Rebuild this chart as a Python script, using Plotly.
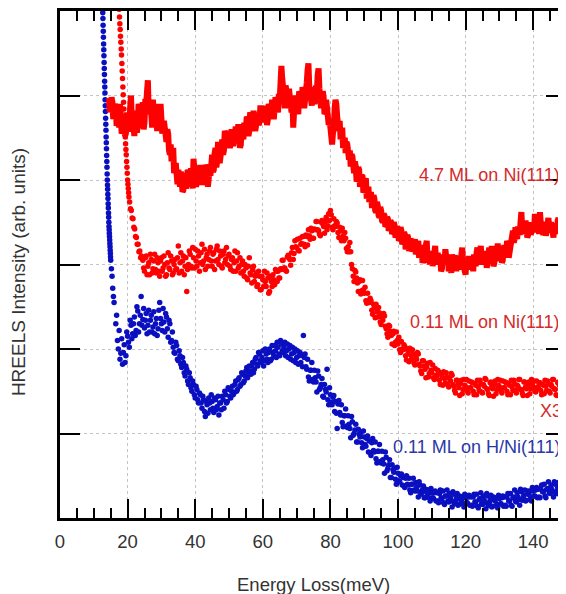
import numpy as np
import plotly.graph_objects as go

# ---------------- data ----------------
x_tick_vals = [0, 20, 40, 60, 80, 100, 120, 140]
x_tick_text = ["0", "20", "40", "60", "80", "100", "120", "140"]
y_tick_vals = [1, 2, 3, 4, 5]

# 4.7 ML on Ni(111): thick red line. Two interleaved 0.5 meV grids (from 14.5 and 14.75 meV)
red_line_start_a = 14.5
red_line_I_a = [
    4.97, 4.88, 4.92, 4.78, 4.85, 4.70, 4.62, 4.75, 4.58, 4.68,
    4.55, 4.72, 4.60, 5.00, 4.78, 4.52, 4.70, 4.65, 4.85, 4.72,
    4.92, 4.68, 4.90, 5.18, 4.82, 4.75, 4.95, 4.62, 4.80, 4.88,
    4.70, 4.78, 4.60, 4.52, 4.45, 4.55, 4.30, 4.22, 4.38, 4.15,
    4.05, 4.12, 3.92, 4.02, 3.88, 4.05, 3.95, 4.10, 3.98, 4.02,
    4.25, 4.10, 3.98, 4.05, 4.18, 3.96, 4.08, 4.00, 4.15, 3.98,
    4.05, 4.30, 4.12, 4.38, 4.22, 4.35, 4.28, 4.48, 4.35, 4.55,
    4.45, 4.50, 4.43, 4.55, 4.47, 4.63, 4.50, 4.57, 4.42, 4.55,
    4.68, 4.60, 4.73, 4.58, 4.77, 4.66, 4.75, 4.64, 4.80, 4.68,
    4.85, 4.73, 4.68, 4.80, 4.72, 4.87, 4.78, 4.90, 4.80, 4.94,
    4.80, 4.95, 5.35, 5.10, 4.85, 5.05, 4.90, 5.00, 4.80, 4.62,
    4.85, 4.95, 4.78, 5.02, 4.90, 5.05, 4.92, 5.15, 5.38, 5.02,
    4.88, 5.10, 4.95, 5.05, 5.32, 5.00, 4.92, 4.98, 4.80, 4.88,
    4.65, 4.55, 4.42, 4.60, 4.95, 4.75, 4.58, 4.48, 4.62, 4.40,
    4.32, 4.42, 4.24, 4.16, 4.28, 4.08, 4.16, 4.02, 4.12, 3.96,
    4.04, 3.88, 4.02, 3.84, 3.74, 3.86, 3.70, 3.78, 3.62, 3.70,
    3.56, 3.64, 3.50, 3.58, 3.46, 3.54, 3.42, 3.50, 3.38, 3.46,
    3.34, 3.42, 3.30, 3.40, 3.26, 3.36, 3.22, 3.32, 3.20, 3.28,
    3.18, 3.30, 3.15, 3.28, 3.12, 3.20, 3.05, 3.18, 3.28, 3.10,
    3.00, 3.15, 3.05, 3.22, 3.08, 3.00, 3.12, 2.95, 3.08, 3.18,
    3.02, 2.92, 3.05, 3.12, 2.98, 3.08, 3.00, 3.06, 2.98, 3.20,
    3.02, 2.88, 3.00, 3.10, 2.96, 3.04, 3.12, 2.98, 3.20, 3.05,
    3.22, 3.08, 3.00, 3.15, 3.02, 3.20, 3.08, 3.15, 3.02, 3.12,
    3.25, 3.10, 3.18, 3.05, 3.22, 3.12, 3.25, 3.15, 3.28, 3.40,
    3.30, 3.38, 3.45, 3.35, 3.62, 3.50, 3.40, 3.45, 3.35, 3.42,
    3.38, 3.48, 3.60, 3.40, 3.50, 3.62, 3.45, 3.35, 3.48, 3.40,
    3.55, 3.38, 3.45, 3.32, 3.48, 3.38, 3.55, 3.42, 3.50, 3.38,
    3.52, 3.65, 3.48, 3.55,
]
red_line_start_b = 14.75
red_line_I_b = [
    4.80, 4.98, 4.72, 4.90, 4.64, 4.80, 4.90, 4.55, 4.78, 4.52,
    4.80, 4.58, 4.85, 4.70, 4.62, 4.82, 4.56, 4.90, 4.62, 4.80,
    4.60, 4.96, 5.05, 4.78, 4.95, 4.62, 4.72, 4.90, 4.58, 4.72,
    4.90, 4.55, 4.70, 4.62, 4.60, 4.35, 4.42, 4.30, 4.08, 4.20,
    3.95, 3.98, 4.10, 3.86, 4.08, 3.90, 4.12, 3.92, 4.14, 3.90,
    4.05, 3.92, 4.15, 3.94, 4.00, 4.12, 3.94, 4.18, 3.92, 4.12,
    4.18, 4.10, 4.32, 4.15, 4.45, 4.20, 4.42, 4.30, 4.58, 4.38,
    4.58, 4.38, 4.60, 4.40, 4.62, 4.45, 4.66, 4.38, 4.60, 4.48,
    4.55, 4.75, 4.52, 4.80, 4.62, 4.82, 4.58, 4.78, 4.65, 4.85,
    4.70, 4.82, 4.88, 4.65, 4.90, 4.75, 4.95, 4.72, 4.98, 4.85,
    5.02, 5.15, 5.20, 4.92, 5.12, 4.85, 5.08, 4.88, 4.95, 4.80,
    5.00, 4.82, 5.05, 4.88, 5.10, 4.85, 5.08, 5.30, 5.10, 4.90,
    5.05, 4.90, 5.12, 5.25, 5.08, 4.85, 5.05, 4.78, 4.95, 4.72,
    4.72, 4.45, 4.55, 4.85, 4.90, 4.62, 4.70, 4.55, 4.38, 4.50,
    4.45, 4.28, 4.35, 4.30, 4.12, 4.22, 3.98, 4.15, 3.92, 4.05,
    3.85, 4.00, 3.78, 3.92, 3.84, 3.70, 3.82, 3.64, 3.74, 3.58,
    3.68, 3.52, 3.60, 3.45, 3.56, 3.40, 3.52, 3.36, 3.50, 3.32,
    3.45, 3.28, 3.44, 3.24, 3.38, 3.18, 3.35, 3.16, 3.30, 3.15,
    3.26, 3.12, 3.24, 3.08, 3.22, 3.02, 3.14, 3.22, 3.02, 3.16,
    3.10, 2.98, 3.16, 3.00, 3.14, 3.06, 2.92, 3.12, 3.00, 3.04,
    3.12, 3.00, 2.90, 3.00, 3.10, 2.92, 3.10, 2.94, 3.12, 3.04,
    2.92, 3.06, 2.94, 2.98, 3.10, 2.92, 3.02, 3.14, 3.00, 3.12,
    3.00, 3.16, 3.10, 2.96, 3.12, 3.04, 3.22, 2.98, 3.18, 3.04,
    3.08, 3.22, 3.02, 3.20, 3.10, 3.28, 3.08, 3.22, 3.32, 3.26,
    3.44, 3.30, 3.36, 3.50, 3.42, 3.36, 3.52, 3.32, 3.50, 3.36,
    3.46, 3.38, 3.44, 3.54, 3.36, 3.48, 3.38, 3.50, 3.34, 3.52,
    3.42, 3.50, 3.36, 3.46, 3.40, 3.52, 3.36, 3.58, 3.40, 3.48,
    3.40, 3.56, 3.62,
]

# 0.11 ML on Ni(111) (x3): red dots. Steep elastic tail, then two interleaved 0.5 meV grids
red_tail_E = [17.4, 17.5, 17.6, 17.7, 17.8, 17.9, 18.0, 18.1, 18.2, 18.3,
              18.4, 18.5, 18.6, 18.7, 18.8, 18.9, 19.0, 19.1, 19.2, 19.3,
              19.4, 19.5, 19.6, 19.7, 19.8, 19.9, 20.0, 20.1, 20.2, 20.3,
              20.4, 20.6, 20.85, 21.1, 21.35, 21.6, 21.85, 22.1, 22.35, 22.6,
              22.85, 23.1, 23.35, 23.6, 23.85, 24.1]
red_tail_I = [6.15, 6.02, 5.93, 5.85, 5.78, 5.70, 5.63, 5.55, 5.48, 5.38,
              5.29, 5.20, 5.10, 5.01, 4.92, 4.84, 4.74, 4.66, 4.58, 4.51,
              4.43, 4.36, 4.30, 4.22, 4.15, 4.08, 4.00, 3.95, 3.90, 3.85,
              3.80, 3.74, 3.66, 3.64, 3.55, 3.54, 3.44, 3.42, 3.33, 3.32,
              3.24, 3.24, 3.15, 3.16, 3.08, 3.10]
red_dots_start_a = 24.5
red_dots_I_a = [
    3.05, 2.92, 3.10, 2.98, 2.88, 3.06, 2.95, 3.12, 2.90, 3.02,
    2.86, 3.08, 2.96, 3.00, 2.88, 3.14, 2.94, 3.04, 2.90, 3.06,
    2.95, 3.22, 3.02, 2.92, 3.10, 2.98, 2.68, 3.00, 3.12, 2.96,
    3.08, 3.18, 2.98, 3.10, 3.02, 3.24, 3.04, 2.94, 3.12, 3.06,
    3.20, 2.98, 3.14, 3.04, 3.22, 3.00, 3.10, 2.96, 3.16, 3.06,
    3.00, 3.12, 2.94, 3.08, 3.02, 2.92, 3.14, 2.98, 2.90, 3.04,
    2.86, 2.96, 2.82, 3.08, 2.88, 2.94, 2.80, 2.90, 2.76, 2.86,
    2.70, 2.82, 2.92, 2.74, 2.84, 2.68, 2.80, 2.88, 2.76, 2.92,
    2.92, 2.84, 2.94, 3.05, 2.96, 2.92, 3.11, 3.06, 3.14, 3.06,
    3.28, 3.20, 3.17, 3.31, 3.25, 3.33, 3.21, 3.33, 3.41, 3.30,
    3.40, 3.31, 3.41, 3.51, 3.40, 3.34, 3.52, 3.45, 3.51, 3.41,
    3.60, 3.64, 3.44, 3.54, 3.45, 3.49, 3.32, 3.40, 3.43, 3.28,
    3.31, 3.15, 3.15, 3.15, 2.95, 2.80, 2.91, 2.78, 2.80, 2.65,
    2.81, 2.66, 2.57, 2.66, 2.55, 2.57, 2.41, 2.49, 2.53, 2.38,
    2.43, 2.29, 2.34, 2.39, 2.24, 2.14, 2.27, 2.16, 2.18, 2.04,
    2.20, 2.06, 1.99, 2.09, 1.99, 2.03, 1.87, 1.97, 2.01, 1.88,
    1.94, 1.81, 1.88, 1.94, 1.80, 1.71, 1.86, 1.76, 1.79, 1.67,
    1.84, 1.72, 1.66, 1.77, 1.68, 1.73, 1.58, 1.68, 1.73, 1.60,
    1.67, 1.55, 1.62, 1.69, 1.56, 1.48, 1.63, 1.54, 1.59, 1.47,
    1.64, 1.55, 1.50, 1.62, 1.54, 1.60, 1.46, 1.57, 1.63, 1.51,
    1.59, 1.48, 1.56, 1.64, 1.52, 1.45, 1.61, 1.53, 1.58, 1.47,
    1.64, 1.55, 1.50, 1.62, 1.54, 1.60, 1.46, 1.57, 1.63, 1.51,
    1.59, 1.48, 1.56, 1.64, 1.52, 1.45, 1.61, 1.53, 1.58, 1.47,
    1.64, 1.55, 1.50, 1.62, 1.54, 1.60, 1.46, 1.57, 1.63, 1.51,
    1.59, 1.48, 1.56, 1.64, 1.52, 1.45, 1.61, 1.53, 1.58, 1.47,
    1.64, 1.55, 1.50, 1.62,
]
red_dots_start_b = 24.75
red_dots_I_b = [
    2.96, 3.08, 2.88, 3.02, 3.12, 2.90, 3.04, 2.94, 3.08, 2.92,
    3.04, 2.92, 3.10, 2.86, 3.02, 2.96, 3.10, 2.88, 3.00, 2.94,
    3.08, 2.90, 3.14, 3.04, 2.88, 3.08, 2.94, 3.16, 2.98, 3.20,
    2.96, 3.04, 3.16, 2.92, 3.14, 3.00, 3.18, 3.08, 2.98, 3.16,
    3.04, 3.12, 2.94, 3.18, 3.06, 3.16, 2.98, 3.12, 3.02, 3.20,
    3.10, 2.98, 3.06, 2.92, 3.16, 3.04, 2.96, 3.08, 3.00, 2.92,
    3.00, 2.84, 2.98, 2.90, 2.78, 2.98, 2.86, 2.74, 2.92, 2.70,
    2.86, 2.74, 2.80, 2.90, 2.66, 2.86, 2.74, 2.82, 2.94, 2.80,
    2.84, 2.95, 3.05, 2.96, 2.93, 3.09, 3.08, 2.99, 3.20, 3.13,
    3.21, 3.30, 3.16, 3.24, 3.33, 3.24, 3.35, 3.23, 3.34, 3.43,
    3.31, 3.42, 3.51, 3.41, 3.36, 3.50, 3.48, 3.37, 3.56, 3.46,
    3.52, 3.59, 3.41, 3.46, 3.51, 3.38, 3.44, 3.28, 3.34, 3.38,
    3.19, 3.21, 3.26, 3.00, 2.86, 2.93, 2.84, 2.68, 2.82, 2.69,
    2.70, 2.73, 2.54, 2.57, 2.60, 2.46, 2.53, 2.37, 2.44, 2.49,
    2.32, 2.38, 2.42, 2.27, 2.18, 2.28, 2.21, 2.06, 2.21, 2.08,
    2.10, 2.14, 1.96, 2.00, 2.05, 1.92, 2.00, 1.85, 1.93, 1.99,
    1.83, 1.91, 1.96, 1.82, 1.74, 1.86, 1.80, 1.66, 1.83, 1.71,
    1.75, 1.81, 1.64, 1.69, 1.75, 1.63, 1.71, 1.57, 1.65, 1.72,
    1.57, 1.65, 1.71, 1.58, 1.51, 1.63, 1.58, 1.45, 1.63, 1.52,
    1.57, 1.64, 1.48, 1.54, 1.61, 1.50, 1.59, 1.46, 1.55, 1.63,
    1.49, 1.58, 1.65, 1.53, 1.47, 1.60, 1.56, 1.44, 1.62, 1.52,
    1.57, 1.63, 1.48, 1.54, 1.61, 1.50, 1.59, 1.46, 1.55, 1.63,
    1.51, 1.57, 1.64, 1.52, 1.48, 1.61, 1.55, 1.45, 1.61, 1.53,
    1.58, 1.62, 1.49, 1.55, 1.60, 1.51, 1.58, 1.47, 1.56, 1.62,
    1.50, 1.58, 1.64, 1.53, 1.46, 1.60, 1.57, 1.45, 1.62, 1.52,
    1.58, 1.63, 1.50,
]

# 0.11 ML on H/Ni(111): blue dots. Steep tail on a 0.05 meV grid from 12.5, then two 0.5 meV grids
blue_tail_start = 12.5
blue_tail_I = [6.20, 6.13, 6.05, 5.98, 5.91, 5.83, 5.76, 5.69, 5.61, 5.54,
               5.47, 5.39, 5.32, 5.25, 5.17, 5.10, 5.03, 4.95, 4.88, 4.81,
               4.73, 4.66, 4.59, 4.51, 4.44, 4.37, 4.29, 4.22, 4.15, 4.07,
               4.00, 3.94, 3.89, 3.83, 3.78, 3.72, 3.67, 3.61, 3.56, 3.50,
               3.45, 3.41, 3.37, 3.33, 3.29, 3.25, 3.21, 3.17, 3.13, 3.09,
               3.05]
blue_mid_E = [15.2, 15.4, 15.6, 15.8, 16.0]
blue_mid_I = [2.95, 2.86, 2.72, 2.62, 2.55]
blue_dots_start_a = 16.5
blue_dots_I_a = [
    2.30, 2.10, 2.22, 1.95, 1.82, 2.05, 1.92, 2.15, 2.02, 2.28,
    2.18, 2.38, 2.22, 2.45, 2.30, 2.62, 2.35, 2.25, 2.42, 2.28,
    2.20, 2.40, 2.26, 2.18, 2.36, 2.24, 2.55, 2.30, 2.48, 2.20,
    2.38, 2.14, 2.30, 2.10, 2.02, 1.95, 2.04, 1.86, 1.92, 1.78,
    1.84, 1.68, 1.76, 1.58, 1.66, 1.50, 1.58, 1.42, 1.52, 1.36,
    1.46, 1.30, 1.40, 1.20, 1.34, 1.42, 1.28, 1.38, 1.25, 1.40,
    1.32, 1.22, 1.36, 1.44, 1.30, 1.46, 1.38, 1.52, 1.42, 1.56,
    1.48, 1.62, 1.52, 1.66, 1.58, 1.70, 1.62, 1.74, 1.66, 1.80,
    1.70, 1.84, 1.76, 1.90, 1.80, 1.94, 1.84, 1.98, 1.86, 1.94,
    1.84, 2.00, 1.88, 1.96, 2.04, 1.90, 2.02, 1.92, 2.06, 1.96,
    2.08, 1.98, 1.90, 2.04, 1.94, 1.86, 2.00, 1.90, 1.82, 1.96,
    1.93, 2.16, 1.94, 1.76, 1.67, 1.75, 1.84, 1.61, 1.66, 1.49,
    1.68, 1.54, 1.65, 1.43, 1.52, 1.76, 1.34, 1.46, 1.34, 1.45,
    1.38, 1.06, 1.39, 1.22, 1.13, 1.21, 1.29, 1.07, 1.11, 0.95,
    1.14, 1.00, 1.11, 0.90, 0.99, 1.01, 0.83, 0.96, 0.85, 0.97,
    0.91, 0.74, 0.94, 0.78, 0.70, 0.79, 0.87, 0.65, 0.69, 0.53,
    0.72, 0.59, 0.69, 0.48, 0.57, 0.59, 0.40, 0.53, 0.43, 0.52,
    0.48, 0.36, 0.50, 0.39, 0.33, 0.40, 0.47, 0.32, 0.36, 0.25,
    0.39, 0.30, 0.38, 0.24, 0.30, 0.33, 0.20, 0.30, 0.23, 0.32,
    0.30, 0.18, 0.33, 0.23, 0.18, 0.26, 0.33, 0.19, 0.24, 0.13,
    0.28, 0.20, 0.29, 0.16, 0.22, 0.25, 0.13, 0.24, 0.18, 0.27,
    0.25, 0.14, 0.28, 0.19, 0.14, 0.22, 0.30, 0.16, 0.21, 0.11,
    0.26, 0.18, 0.27, 0.14, 0.21, 0.24, 0.12, 0.23, 0.17, 0.26,
    0.25, 0.14, 0.29, 0.20, 0.15, 0.24, 0.33, 0.19, 0.25, 0.15,
    0.31, 0.24, 0.33, 0.21, 0.28, 0.32, 0.20, 0.32, 0.26, 0.36,
    0.34, 0.24, 0.39, 0.31, 0.26, 0.34, 0.43, 0.29, 0.34, 0.25,
    0.40, 0.32, 0.42, 0.29, 0.36, 0.39, 0.28, 0.39, 0.33, 0.42,
]
blue_dots_start_b = 16.75
blue_dots_I_b = [
    2.40, 2.00, 1.88, 2.12, 1.96, 1.84, 2.20, 2.08, 2.34, 2.12,
    2.30, 2.16, 2.50, 2.20, 2.40, 2.28, 2.48, 2.34, 2.18, 2.46,
    2.34, 2.20, 2.44, 2.30, 2.16, 2.46, 2.36, 2.22, 2.32, 2.42,
    2.24, 2.34, 2.08, 2.20, 1.96, 2.08, 1.88, 1.98, 1.82, 1.90,
    1.72, 1.80, 1.62, 1.72, 1.54, 1.62, 1.46, 1.56, 1.40, 1.48,
    1.36, 1.44, 1.26, 1.38, 1.24, 1.36, 1.46, 1.30, 1.42, 1.28,
    1.44, 1.36, 1.28, 1.40, 1.50, 1.36, 1.54, 1.44, 1.50, 1.46,
    1.58, 1.50, 1.64, 1.56, 1.72, 1.60, 1.68, 1.78, 1.70, 1.74,
    1.80, 1.72, 1.88, 1.82, 1.96, 1.86, 1.90, 1.80, 2.00, 1.88,
    1.96, 1.86, 2.04, 1.92, 1.98, 2.08, 1.94, 2.10, 1.98, 2.02,
    1.92, 2.06, 2.00, 1.88, 2.02, 1.96, 1.84, 1.98, 1.92, 1.84,
    1.79, 1.90, 1.79, 1.88, 1.62, 1.75, 1.64, 1.75, 1.61, 1.74,
    1.52, 1.58, 1.44, 1.58, 1.49, 1.40, 1.54, 1.37, 1.43, 1.26,
    1.24, 1.35, 1.25, 1.34, 1.08, 1.21, 1.09, 1.21, 1.06, 1.20,
    0.98, 1.04, 0.90, 1.05, 0.96, 0.89, 1.03, 0.87, 0.94, 0.78,
    0.77, 0.89, 0.80, 0.90, 0.65, 0.79, 0.67, 0.79, 0.64, 0.78,
    0.56, 0.63, 0.48, 0.63, 0.54, 0.46, 0.60, 0.44, 0.50, 0.39,
    0.38, 0.47, 0.40, 0.47, 0.30, 0.40, 0.33, 0.42, 0.32, 0.43,
    0.28, 0.33, 0.24, 0.34, 0.29, 0.24, 0.35, 0.24, 0.30, 0.20,
    0.20, 0.29, 0.24, 0.32, 0.16, 0.26, 0.20, 0.29, 0.20, 0.31,
    0.17, 0.23, 0.15, 0.26, 0.21, 0.17, 0.28, 0.18, 0.25, 0.15,
    0.15, 0.25, 0.19, 0.28, 0.12, 0.23, 0.17, 0.26, 0.18, 0.29,
    0.15, 0.21, 0.13, 0.25, 0.20, 0.16, 0.27, 0.17, 0.24, 0.14,
    0.15, 0.25, 0.20, 0.29, 0.14, 0.25, 0.20, 0.30, 0.22, 0.34,
    0.21, 0.27, 0.20, 0.32, 0.28, 0.24, 0.36, 0.26, 0.33, 0.24,
    0.25, 0.35, 0.31, 0.40, 0.24, 0.35, 0.30, 0.39, 0.31, 0.43,
    0.29, 0.36, 0.28, 0.40, 0.35, 0.31, 0.43, 0.33, 0.40,
]

labels = ["4.7 ML on Ni(111)", "0.11 ML on Ni(111)", "X3", "0.11 ML on H/Ni(111)"]


# ---------------- build series ----------------
def grid(start, values, step=0.5):
    return start + step * np.arange(len(values))


def merge(*parts):
    E = np.concatenate([p[0] for p in parts])
    I = np.concatenate([p[1] for p in parts])
    order = np.argsort(E, kind="stable")
    return E[order], I[order]


red_line_E, red_line_I = merge(
    (grid(red_line_start_a, red_line_I_a), np.array(red_line_I_a)),
    (grid(red_line_start_b, red_line_I_b), np.array(red_line_I_b)),
)
red_E, red_I = merge(
    (np.array(red_tail_E), np.array(red_tail_I)),
    (grid(red_dots_start_a, red_dots_I_a), np.array(red_dots_I_a)),
    (grid(red_dots_start_b, red_dots_I_b), np.array(red_dots_I_b)),
)
blue_E, blue_I = merge(
    (grid(blue_tail_start, blue_tail_I, 0.05), np.array(blue_tail_I)),
    (np.array(blue_mid_E), np.array(blue_mid_I)),
    (grid(blue_dots_start_a, blue_dots_I_a), np.array(blue_dots_I_a)),
    (grid(blue_dots_start_b, blue_dots_I_b), np.array(blue_dots_I_b)),
)

RED = "#ff0000"
BLUE = "#0a0fc0"
FONT = "Liberation Sans, Arial, Helvetica, sans-serif"
TXT = "#333333"

fig = go.Figure()
fig.add_trace(go.Scatter(x=red_E, y=red_I, mode="markers",
                         marker=dict(color=RED, size=5.5, line=dict(width=0)), hoverinfo="skip"))
fig.add_trace(go.Scatter(x=blue_E, y=blue_I, mode="markers",
                         marker=dict(color=BLUE, size=5.5, line=dict(width=0)), hoverinfo="skip"))
fig.add_trace(go.Scatter(x=red_line_E, y=red_line_I, mode="lines",
                         line=dict(color=RED, width=6), hoverinfo="skip"))
# empty trace that carries the right-hand tick axis
fig.add_trace(go.Scatter(x=[None], y=[None], yaxis="y2", hoverinfo="skip"))

# the page body adds an 8 px margin, so the figure is 8 px smaller than the window
fig.update_layout(
    width=558, height=586,
    margin=dict(l=52, r=0, t=3, b=76),
    paper_bgcolor="white", plot_bgcolor="white",
    showlegend=False,
    font=dict(family=FONT, size=18.5, color=TXT),
    xaxis=dict(
        range=[0, 149.7], tickmode="array", tickvals=x_tick_vals, ticktext=x_tick_text,
        ticks="inside", ticklen=19, tickwidth=2, tickcolor="black",
        showline=True, linewidth=2.5, linecolor="black", mirror="ticks",
        showgrid=True, gridcolor="#c4c4c4", griddash="dot", gridwidth=1,
        minor=dict(tickmode="linear", tick0=0, dtick=5, ticks="inside", ticklen=10,
                   tickwidth=2, tickcolor="black", showgrid=False),
        zeroline=False, ticklabelstandoff=5,
        tickfont=dict(family=FONT, size=18.5, color=TXT),
    ),
    yaxis=dict(
        range=[0, 6], tickmode="array", tickvals=y_tick_vals, showticklabels=False,
        ticks="inside", ticklen=20, tickwidth=2, tickcolor="black",
        showline=True, linewidth=2.5, linecolor="black", mirror=False,
        showgrid=True, gridcolor="#c4c4c4", griddash="dot", gridwidth=1,
        zeroline=False,
    ),
    yaxis2=dict(
        overlaying="y", side="right", range=[0, 6], tickmode="array", tickvals=y_tick_vals,
        showticklabels=False, ticks="inside", ticklen=20, tickwidth=2, tickcolor="black",
        showline=False, showgrid=False, zeroline=False,
    ),
)

ann_font_red = dict(family=FONT, size=18, color="#d42a2a")
ann_font_blue = dict(family=FONT, size=18, color="#2a38a8")
fig.add_annotation(x=105.5, y=4.06, text=labels[0], showarrow=False, xanchor="left", yanchor="middle",
                   font=ann_font_red)
fig.add_annotation(x=102.9, y=2.32, text=labels[1], showarrow=False, xanchor="left", yanchor="middle",
                   font=ann_font_red)
fig.add_annotation(x=141.5, y=1.27, text=labels[2], showarrow=False, xanchor="left", yanchor="middle",
                   font=ann_font_red)
fig.add_annotation(x=97.9, y=0.84, text=labels[3], showarrow=False, xanchor="left", yanchor="middle",
                   font=ann_font_blue)

fig.add_annotation(xref="paper", yref="paper", x=0.5, y=-0.131, text="Energy Loss(meV)",
                   showarrow=False, xanchor="center", yanchor="middle",
                   font=dict(family=FONT, size=18.5, color=TXT))
fig.add_annotation(xref="paper", yref="paper", x=-0.083, y=0.485, text="HREELS Intensity (arb. units)",
                   showarrow=False, xanchor="center", yanchor="middle", textangle=-90,
                   font=dict(family=FONT, size=19, color=TXT))

fig.write_html("out.html")
